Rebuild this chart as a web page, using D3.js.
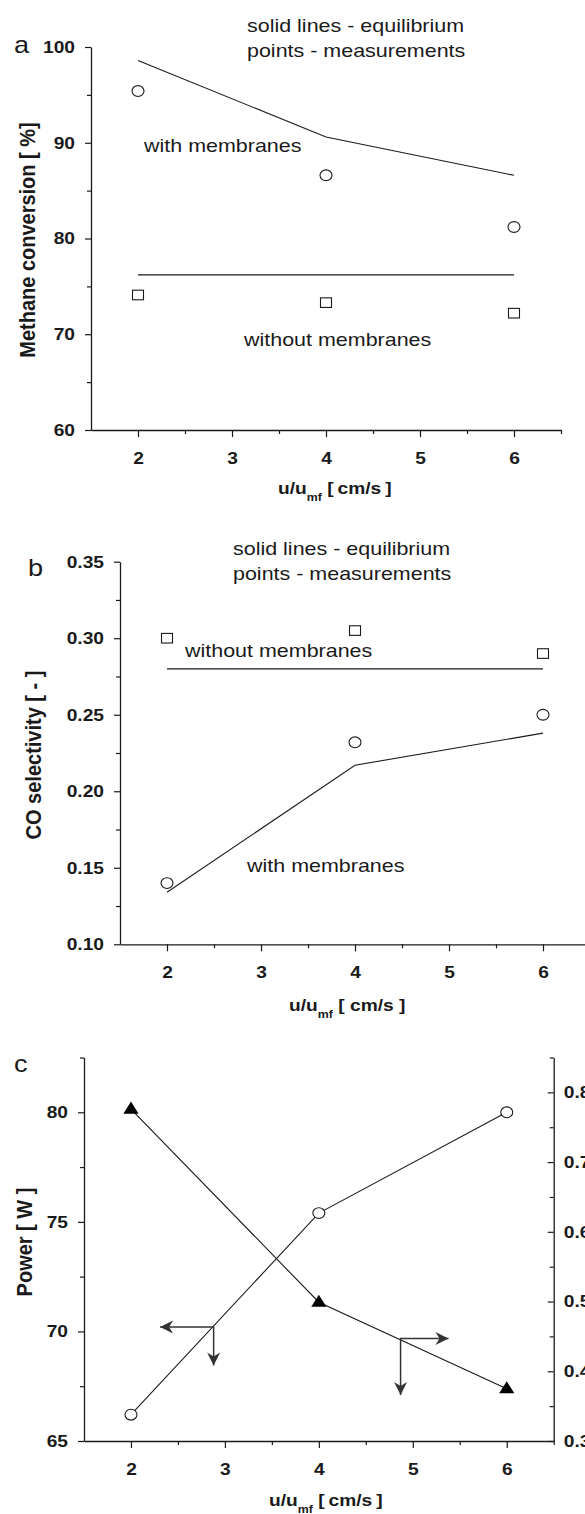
<!DOCTYPE html>
<html><head><meta charset="utf-8">
<script src="https://cdn.jsdelivr.net/npm/d3@7"></script>
<style>
html,body{margin:0;padding:0;background:#fff;}
svg{display:block;}
text{font-family:"Liberation Sans",Arial,Helvetica,sans-serif;fill:#1a1a1a;}
</style></head><body>
<svg id="chart" width="585" height="1514"></svg>
<script>
// ---------- data ----------
const xValues = [2, 4, 6];
const xMajorTicks = [2, 3, 4, 5, 6];
const xMinorTicks = [2.5, 3.5, 4.5, 5.5, 6.5];
// panel a : methane conversion [%]
const aTicks = [60, 70, 80, 90, 100];
const aMinor = [65, 75, 85, 95];
const aEqWith = [98.6, 90.6, 86.6];
const aMeasWith = [95.4, 86.6, 81.2];
const aEqWithout = [76.2, 76.2, 76.2];
const aMeasWithout = [74.1, 73.3, 72.2];
// panel b : CO selectivity [-]
const bTicks = [0.10, 0.15, 0.20, 0.25, 0.30, 0.35];
const bMinor = [0.125, 0.175, 0.225, 0.275, 0.325];
const bEqWithout = [0.28, 0.28, 0.28];
const bMeasWithout = [0.300, 0.305, 0.290];
const bEqWith = [0.134, 0.217, 0.238];
const bMeasWith = [0.140, 0.232, 0.250];
// panel c : power [W] (left) and right-axis series
const cLeftTicks = [65, 70, 75, 80];
const cLeftMinor = [67.5, 72.5, 77.5, 82.5];
const cRightTicks = [0.3, 0.4, 0.5, 0.6, 0.7, 0.8];
const cRightMinor = [0.35, 0.45, 0.55, 0.65, 0.75, 0.85];
const cPower = [66.2, 75.4, 80.0];
const cRight = [0.776, 0.499, 0.375];
// axis-indicator arrows (data coordinates)
const arrowLeft = {x: 2.88, y: 70.2, tipX: 2.31, tipY: 68.45};
const arrowRight = {x: 4.87, y: 0.447, tipX: 5.38, tipY: 0.366};

// ---------- setup ----------
const SX = 1.13;               // horizontal stretch of reference glyphs
const svg = d3.select("#chart");
const INK = "#1a1a1a";

const xA = d3.scaleLinear([1.5, 6.5], [91, 561]);
const yA = d3.scaleLinear([60, 100], [430, 47]);
const xB = d3.scaleLinear([1.5, 6.5], [120, 590]);
const yB = d3.scaleLinear([0.10, 0.35], [944.3, 561.7]);
const xC = d3.scaleLinear([1.5, 6.5], [84, 553.7]);
const yCL = d3.scaleLinear([65, 82.5], [1441, 1057.5]);
const yCR = d3.scaleLinear([0.3, 0.85], [1441, 1057.5]);

function stext(x, y, str, size, weight, anchor) {
  return svg.append("text")
    .attr("transform", `translate(${x},${y}) scale(${SX},1)`)
    .attr("font-size", size).attr("font-weight", weight || "normal")
    .attr("text-anchor", anchor || "start").text(str);
}

function drawAxis(orient, scale, pos, major, minor, fmt, inward) {
  const mk = orient === "left" ? d3.axisLeft : orient === "right" ? d3.axisRight : d3.axisBottom;
  const tr = orient === "bottom" ? `translate(0,${pos})` : `translate(${pos},0)`;
  const dir = inward ? -1 : 1;
  const gm = svg.append("g").attr("transform", tr)
    .call(mk(scale).tickValues(minor).tickSize(4 * dir).tickSizeOuter(0).tickFormat(""));
  gm.select(".domain").remove();
  const majLen = orient === "bottom" ? 7 : 6;
  const g = svg.append("g").attr("transform", tr)
    .call(mk(scale).tickValues(major).tickSize(majLen * dir).tickSizeOuter(0)
      .tickPadding(orient === "bottom" ? 10 : 10).tickFormat(fmt));
  [g, gm].forEach(s => {
    s.selectAll("line").attr("stroke", INK).attr("stroke-width", 1.2);
    s.select(".domain").attr("stroke", INK).attr("stroke-width", 1.3);
  });
  g.selectAll(".tick text").each(function () {
    const t = d3.select(this);
    if (orient === "bottom") {
      t.attr("y", 34).attr("dy", null);
      t.attr("transform", `scale(${SX},1)`);
    } else {
      const x = +t.attr("x") || 0;
      t.attr("x", 0).attr("transform", `translate(${x},0) scale(${SX},1)`);
    }
  }).attr("font-size", 17).attr("font-weight", "bold")
    .attr("font-family", '"Liberation Sans",Arial,sans-serif').attr("fill", INK);
  return g;
}

function xTitle(x, y, tail) {
  const t = svg.append("text").attr("transform", `translate(${x},${y}) scale(${SX},1)`)
    .attr("font-size", 17).attr("font-weight", "bold");
  t.append("tspan").text("u/u");
  t.append("tspan").attr("font-size", 11).attr("dy", 6.5).text("mf");
  t.append("tspan").attr("dy", -6.5).text(tail);
}

function yTitle(x, y, str) {
  svg.append("text").attr("transform", `translate(${x},${y}) scale(${SX},1) rotate(-90)`)
    .attr("text-anchor", "middle").attr("font-size", 20).attr("font-weight", "bold").text(str);
}

function line(xs, ys, vals, color) {
  svg.append("path").datum(vals)
    .attr("d", d3.line().x((d, i) => xs(xValues[i])).y(d => ys(d)))
    .attr("fill", "none").attr("stroke", color || INK).attr("stroke-width", 1.1);
}
function circles(xs, ys, vals) {
  svg.append("g").selectAll("ellipse").data(vals).join("ellipse")
    .attr("cx", (d, i) => xs(xValues[i])).attr("cy", d => ys(d))
    .attr("rx", 6).attr("ry", 5.4).attr("fill", "#fff").attr("stroke", INK).attr("stroke-width", 1.1);
}
function squares(xs, ys, vals) {
  svg.append("g").selectAll("rect").data(vals).join("rect")
    .attr("x", (d, i) => xs(xValues[i]) - 5.5).attr("y", d => ys(d) - 4.8)
    .attr("width", 11).attr("height", 9.6).attr("fill", "#fff").attr("stroke", INK).attr("stroke-width", 1.1);
}
function triangles(xs, ys, vals) {
  svg.append("g").selectAll("path").data(vals).join("path")
    .attr("transform", (d, i) => `translate(${xs(xValues[i])},${ys(d)})`)
    .attr("d", "M0,-7.5L7.6,4.6L-7.6,4.6Z").attr("fill", "#000");
}
function arrowHead(x, y, dir) {
  // dir: 'left','right','down'
  const L = 13, W = 6.5, N = 9;
  let p;
  if (dir === "left") p = [[x, y], [x + L, y - W], [x + N, y], [x + L, y + W]];
  else if (dir === "right") p = [[x, y], [x - L, y - W], [x - N, y], [x - L, y + W]];
  else p = [[x, y], [x - W, y - L], [x, y - N], [x + W, y - L]];
  svg.append("path").attr("d", "M" + p.map(q => q.join(",")).join("L") + "Z").attr("fill", "#333");
}
function axisArrow(xs, ys, a, horizDir) {
  const cx = xs(a.x), cy = ys(a.y), tx = xs(a.tipX), ty = ys(a.tipY);
  svg.append("path").attr("d", `M${tx},${cy}L${cx},${cy}L${cx},${ty}`)
    .attr("fill", "none").attr("stroke", "#333").attr("stroke-width", 1.5);
  arrowHead(tx, cy, horizDir);
  arrowHead(cx, ty, "down");
}

// ---------- panel a ----------
drawAxis("left", yA, xA.range()[0], aTicks, aMinor, d3.format("d"));
drawAxis("bottom", xA, yA.range()[0], xMajorTicks, xMinorTicks, d3.format("d"));
line(xA, yA, aEqWith);
line(xA, yA, aEqWithout);
circles(xA, yA, aMeasWith);
squares(xA, yA, aMeasWithout);
stext(14, 53, "a", 24);
stext(247, 32, "solid lines - equilibrium", 19);
stext(247, 57, "points - measurements", 19);
stext(144, 152, "with membranes", 19);
stext(244, 346, "without membranes", 19);
xTitle(278, 494, " [\u2009cm/s\u2009]");
yTitle(35, 240, "Methane conversion  [ %]");

// ---------- panel b ----------
drawAxis("left", yB, xB.range()[0], bTicks, bMinor, d3.format(".2f"));
drawAxis("bottom", xB, yB.range()[0], xMajorTicks, xMinorTicks, d3.format("d"));
svg.append("path").attr("d", `M${xB(6.5)},${yB(0.1)}H585`).attr("stroke", INK).attr("stroke-width", 1.3);
line(xB, yB, bEqWithout);
line(xB, yB, bEqWith);
squares(xB, yB, bMeasWithout);
circles(xB, yB, bMeasWith);
stext(28, 576, "b", 24);
stext(233, 555, "solid lines - equilibrium", 19);
stext(233, 580, "points - measurements", 19);
stext(185, 657, "without membranes", 19);
stext(247, 872, "with membranes", 19);
xTitle(289, 1011, " [ cm/s ]");
yTitle(41, 755, "CO selectivity  [ - ]");

// ---------- panel c ----------
drawAxis("left", yCL, xC.range()[0], cLeftTicks, cLeftMinor, d3.format("d"));
drawAxis("right", yCR, xC.range()[1], cRightTicks, cRightMinor, d3.format(".1f"), true);
drawAxis("bottom", xC, yCL.range()[0], xMajorTicks, xMinorTicks, d3.format("d"));
line(xC, yCL, cPower);
line(xC, yCR, cRight);
circles(xC, yCL, cPower);
triangles(xC, yCR, cRight);
axisArrow(xC, yCL, arrowLeft, "left");
axisArrow(xC, yCR, arrowRight, "right");
stext(14, 1072, "c", 24);
xTitle(269, 1506, " [\u2009cm/s\u2009]");
yTitle(32, 1242, "Power  [ W ]");
</script>
</body></html>
